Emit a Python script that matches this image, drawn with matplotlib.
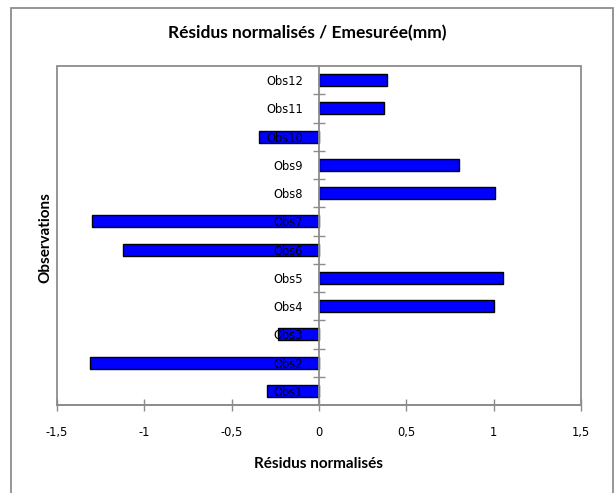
import matplotlib
matplotlib.use("Agg")
import matplotlib.pyplot as plt
from matplotlib.patches import Rectangle
import numpy as np

categories = ["Obs1", "Obs2", "Obs3", "Obs4", "Obs5", "Obs6",
              "Obs7", "Obs8", "Obs9", "Obs10", "Obs11", "Obs12"]
values = [-0.30, -1.31, -0.235, 1.003, 1.055, -1.12,
          -1.30, 1.01, 0.80, -0.345, 0.374, 0.39]
xticks = [-1.5, -1.0, -0.5, 0.0, 0.5, 1.0, 1.5]
xtick_labels = ["-1,5", "-1", "-0,5", "0", "0,5", "1", "1,5"]

W, H = 615, 493
fig = plt.figure(figsize=(W / 100, H / 100), dpi=100)
gray = "#8c8c8c"

# outer chart frame
fig.patches.append(Rectangle((11 / W, -0.05), (613 - 11) / W, 1 - 7.5 / H + 0.05,
                             transform=fig.transFigure, fill=False,
                             edgecolor=gray, linewidth=1.3))

left, right, top, bottom = 57, 581, 66, 405
ax = fig.add_axes([left / W, 1 - bottom / H, (right - left) / W, (bottom - top) / H])

y = np.arange(len(categories))
ax.barh(y, values, height=0.42, color="#0000FF", edgecolor="black", linewidth=1.0, zorder=1)

ax.set_xlim(-1.5, 1.5)
ax.set_ylim(-0.5, len(categories) - 0.5)

for s in ["top", "right", "bottom", "left"]:
    ax.spines[s].set_color(gray)
    ax.spines[s].set_linewidth(1.3)
ax.spines["left"].set_position(("data", 0))
ax.spines["top"].set_visible(False)
ax.spines["right"].set_visible(False)
ax.add_patch(Rectangle((0, 0), 1, 1, transform=ax.transAxes, fill=False,
                       edgecolor=gray, linewidth=1.3, clip_on=False, zorder=3))

ax.set_xticks(xticks)
ax.set_xticklabels(xtick_labels, fontsize=8.3, family="DejaVu Sans")
ax.tick_params(axis="x", direction="inout", length=8, width=1, color=gray, pad=11)

ax.set_yticks(y)
ax.set_yticklabels(categories, fontsize=8.3, family="DejaVu Sans")
ax.tick_params(axis="y", which="major", length=0, pad=11.5)
ax.set_yticks(np.arange(0.5, len(categories) - 1, 1.0), minor=True)
ax.tick_params(axis="y", which="minor", direction="inout", length=8, width=1, color=gray)

fig.text(0.5, 1 - 33 / H, "Résidus normalisés / Emesurée(mm)", fontsize=12.5,
         fontweight="bold", family="Lato", ha="center", va="center")
fig.text(319 / W, 1 - 464 / H, "Résidus normalisés", fontsize=11, fontweight="bold",
         family="Lato", ha="center", va="center")
fig.text(45 / W, 1 - 238 / H, "Observations", rotation=90, fontsize=11, fontweight="bold",
         family="Lato", ha="center", va="center")

fig.savefig("out.png", dpi=100)
